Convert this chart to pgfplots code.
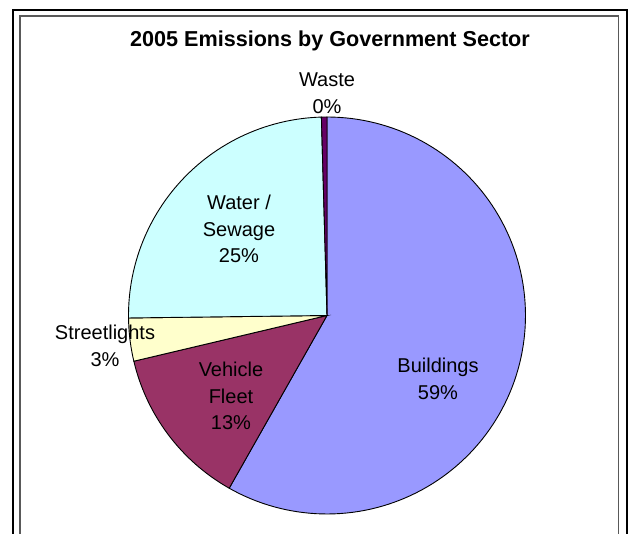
\documentclass[border=0pt]{standalone}
\usepackage{pgfplots}
\usepackage{pgfplotstable}
\pgfplotsset{compat=1.18}
\usepackage{fontspec}
\setmainfont{Liberation Sans}
\definecolor{cBld}{HTML}{9999FF}
\definecolor{cVeh}{HTML}{993366}
\definecolor{cStr}{HTML}{FFFFCC}
\definecolor{cWat}{HTML}{CCFFFF}
\definecolor{cWas}{HTML}{660066}
\pgfplotstableread{
sector value
Buildings 58.2
VehicleFleet 13.1
Streetlights 3.5
WaterSewage 24.75
Waste 0.45
}\piedata
\pgfplotstablegetelem{0}{value}\of\piedata\let\vA\pgfplotsretval
\pgfplotstablegetelem{1}{value}\of\piedata\let\vB\pgfplotsretval
\pgfplotstablegetelem{2}{value}\of\piedata\let\vC\pgfplotsretval
\pgfplotstablegetelem{3}{value}\of\piedata\let\vD\pgfplotsretval
\pgfplotstablegetelem{4}{value}\of\piedata\let\vE\pgfplotsretval
\pgfmathsetmacro\aO{90}
\pgfmathsetmacro\aA{\aO-3.6*\vA}
\pgfmathsetmacro\aB{\aA-3.6*\vB}
\pgfmathsetmacro\aC{\aB-3.6*\vC}
\pgfmathsetmacro\aD{\aC-3.6*\vD}
\pgfmathsetmacro\aE{\aD-3.6*\vE}
\def\cx{327}
\def\cy{218.5}
\def\rr{198.5}
\begin{document}
\begin{tikzpicture}
\begin{axis}[scale only axis, width=633pt, height=534pt, at={(0,0)}, anchor=south west,
  xmin=0, xmax=633, ymin=0, ymax=534, hide axis, clip=false]
% frames
\draw[line width=2pt, black] (axis cs:13,0) -- (axis cs:13,524) -- (axis cs:627.3,524) -- (axis cs:627.3,0);
\draw[line width=1.6pt, black!65] (axis cs:20,0) -- (axis cs:20,518) -- (axis cs:618.5,518) -- (axis cs:618.5,0);
% sectors
\addplot[fill=cBld, draw=black, line width=0.9pt, domain=\aA:\aO, samples=120, variable=\t]
  ({\cx+\rr*cos(\t)},{\cy+\rr*sin(\t)}) -- (axis cs:\cx,\cy) -- cycle;
\addplot[fill=cVeh, draw=black, line width=0.9pt, domain=\aB:\aA, samples=40, variable=\t]
  ({\cx+\rr*cos(\t)},{\cy+\rr*sin(\t)}) -- (axis cs:\cx,\cy) -- cycle;
\addplot[fill=cStr, draw=black, line width=0.9pt, domain=\aC:\aB, samples=10, variable=\t]
  ({\cx+\rr*cos(\t)},{\cy+\rr*sin(\t)}) -- (axis cs:\cx,\cy) -- cycle;
\addplot[fill=cWat, draw=black, line width=0.9pt, domain=\aD:\aC, samples=60, variable=\t]
  ({\cx+\rr*cos(\t)},{\cy+\rr*sin(\t)}) -- (axis cs:\cx,\cy) -- cycle;
\addplot[fill=cWas, draw=black, line width=0.9pt, domain=\aE:\aD, samples=3, variable=\t]
  ({\cx+\rr*cos(\t)},{\cy+\rr*sin(\t)}) -- (axis cs:\cx,\cy) -- cycle;
% texts
\node[font=\bfseries\fontsize{21.6}{25}\selectfont] at (axis cs:330,493) {2005 Emissions by Government Sector};
\node[align=center, font=\fontsize{20}{26.5}\selectfont] at (axis cs:438,155) {Buildings\\59\%};
\node[align=center, font=\fontsize{20}{26.5}\selectfont] at (axis cs:231,138) {Vehicle\\Fleet\\13\%};
\node[align=center, font=\fontsize{20}{26.5}\selectfont] at (axis cs:105,188) {Streetlights\\3\%};
\node[align=center, font=\fontsize{20}{26.5}\selectfont] at (axis cs:239,305) {Water /\\Sewage\\25\%};
\node[align=center, font=\fontsize{20}{26.5}\selectfont] at (axis cs:327,441) {Waste\\0\%};
\end{axis}
\pgfresetboundingbox
\useasboundingbox (0,0) rectangle (633pt,534pt);
\end{tikzpicture}
\end{document}
